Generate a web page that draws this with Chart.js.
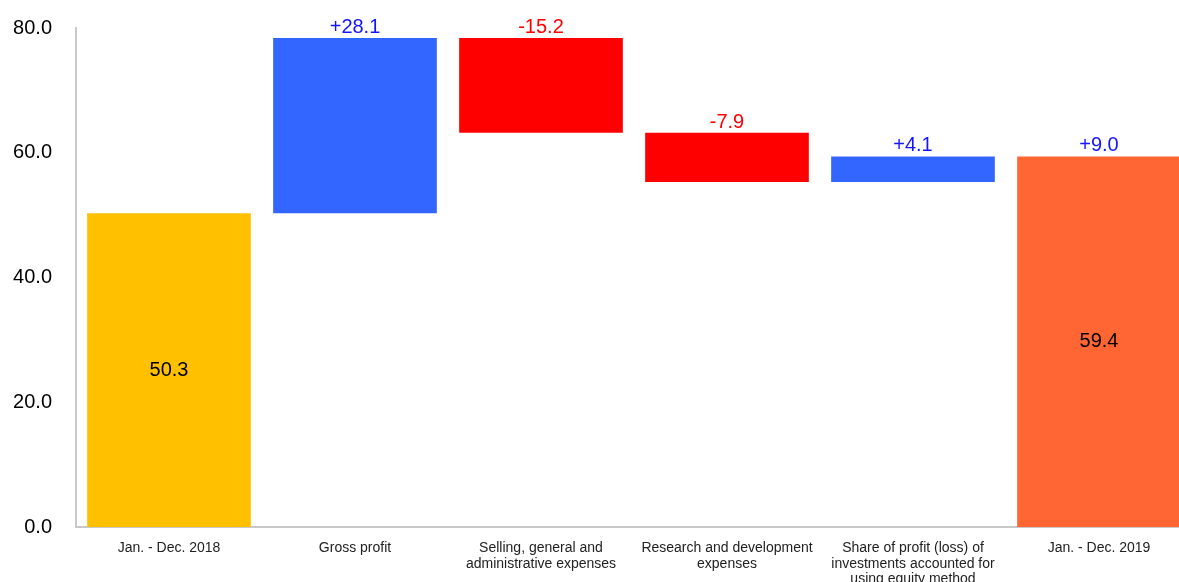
<!DOCTYPE html>
<html>
<head>
<meta charset="utf-8">
<script src="https://cdn.jsdelivr.net/npm/chart.js@4"></script>
<style>
  html, body { margin: 0; padding: 0; background: #fff; overflow: hidden; }
  #wrap { width: 1192px; height: 582px; }
</style>
</head>
<body>
<div id="wrap"><canvas id="bridgeChart"></canvas></div>
<script>
const categories = [
    "Jan. - Dec. 2018",
    "Gross profit",
    ["Selling, general and", "administrative expenses"],
    ["Research and development", "expenses"],
    ["Share of profit (loss) of", "investments accounted for", "using equity method"],
    "Jan. - Dec. 2019"
];
const startTotal = 50.3;
const deltas = [28.1, -15.2, -7.9, 4.1];
const endTotal = 59.4;
const totalChange = 9.0;
const yTicks = [0, 20, 40, 60, 80];

const colors = ["#FFC000", "#3366FF", "#FF0000", "#FF0000", "#3366FF", "#FF6633"];
const fontFamily = "'Liberation Sans', Arial, sans-serif";

// floating bars: [from, to]
const ranges = [[0, startTotal]];
let run = startTotal;
deltas.forEach((d) => {
    const next = +(run + d).toFixed(1);
    ranges.push([run, next]);
    run = next;
});
ranges.push([0, endTotal]);

function sign(v) {
    return (v > 0 ? "+" : "") + v.toFixed(1);
}

const labelPlugin = {
    id: "barLabels",
    afterDatasetsDraw(chart) {
        const ctx = chart.ctx;
        const meta = chart.getDatasetMeta(0);
        const last = meta.data.length - 1;
        ctx.save();
        ctx.font = "20px " + fontFamily;
        ctx.textAlign = "center";
        meta.data.forEach((bar, i) => {
            const top = Math.min(bar.y, bar.base);
            const bottom = Math.max(bar.y, bar.base);
            if (i === 0 || i === last) {
                ctx.fillStyle = "#000";
                ctx.textBaseline = "middle";
                ctx.fillText((i === 0 ? startTotal : endTotal).toFixed(1), bar.x, (top + bottom) / 2);
            }
            let d = null;
            if (i > 0 && i < last) d = deltas[i - 1];
            if (i === last) d = totalChange;
            if (d !== null) {
                ctx.fillStyle = d >= 0 ? "#1414ff" : "#ff0000";
                ctx.textBaseline = "alphabetic";
                ctx.fillText(sign(d), bar.x, top - 5);
            }
        });
        ctx.restore();
    }
};

new Chart(document.getElementById("bridgeChart"), {
    type: "bar",
    data: {
        labels: categories,
        datasets: [
            {
                data: ranges,
                backgroundColor: colors,
                borderWidth: 0,
                categoryPercentage: 1,
                barPercentage: 0.88,
            },
        ],
    },
    options: {
        responsive: true,
        maintainAspectRatio: false,
        animation: false,
        layout: { padding: { top: 25, right: 0, left: 0, bottom: 0 } },
        plugins: {
            legend: { display: false },
            tooltip: { enabled: false },
        },
        scales: {
            x: {
                grid: { display: false },
                border: { display: true, color: "#c8c8c8", width: 2 },
                ticks: {
                    color: "#222",
                    font: { family: fontFamily, size: 14, lineHeight: 1.08 },
                    maxRotation: 0,
                    autoSkip: false,
                    padding: 6,
                },
                afterFit(scale) { scale.height = 55; },
            },
            y: {
                min: 0,
                max: 80,
                grid: { display: false },
                border: { display: true, color: "#c8c8c8", width: 2 },
                afterBuildTicks(scale) {
                    scale.ticks = yTicks.map((v) => ({ value: v }));
                },
                ticks: {
                    color: "#000",
                    font: { family: fontFamily, size: 20 },
                    padding: 16,
                    callback: (v) => Number(v).toFixed(1),
                },
                afterFit(scale) { scale.width = 76; },
            },
        },
    },
    plugins: [labelPlugin],
});
</script>
</body>
</html>
